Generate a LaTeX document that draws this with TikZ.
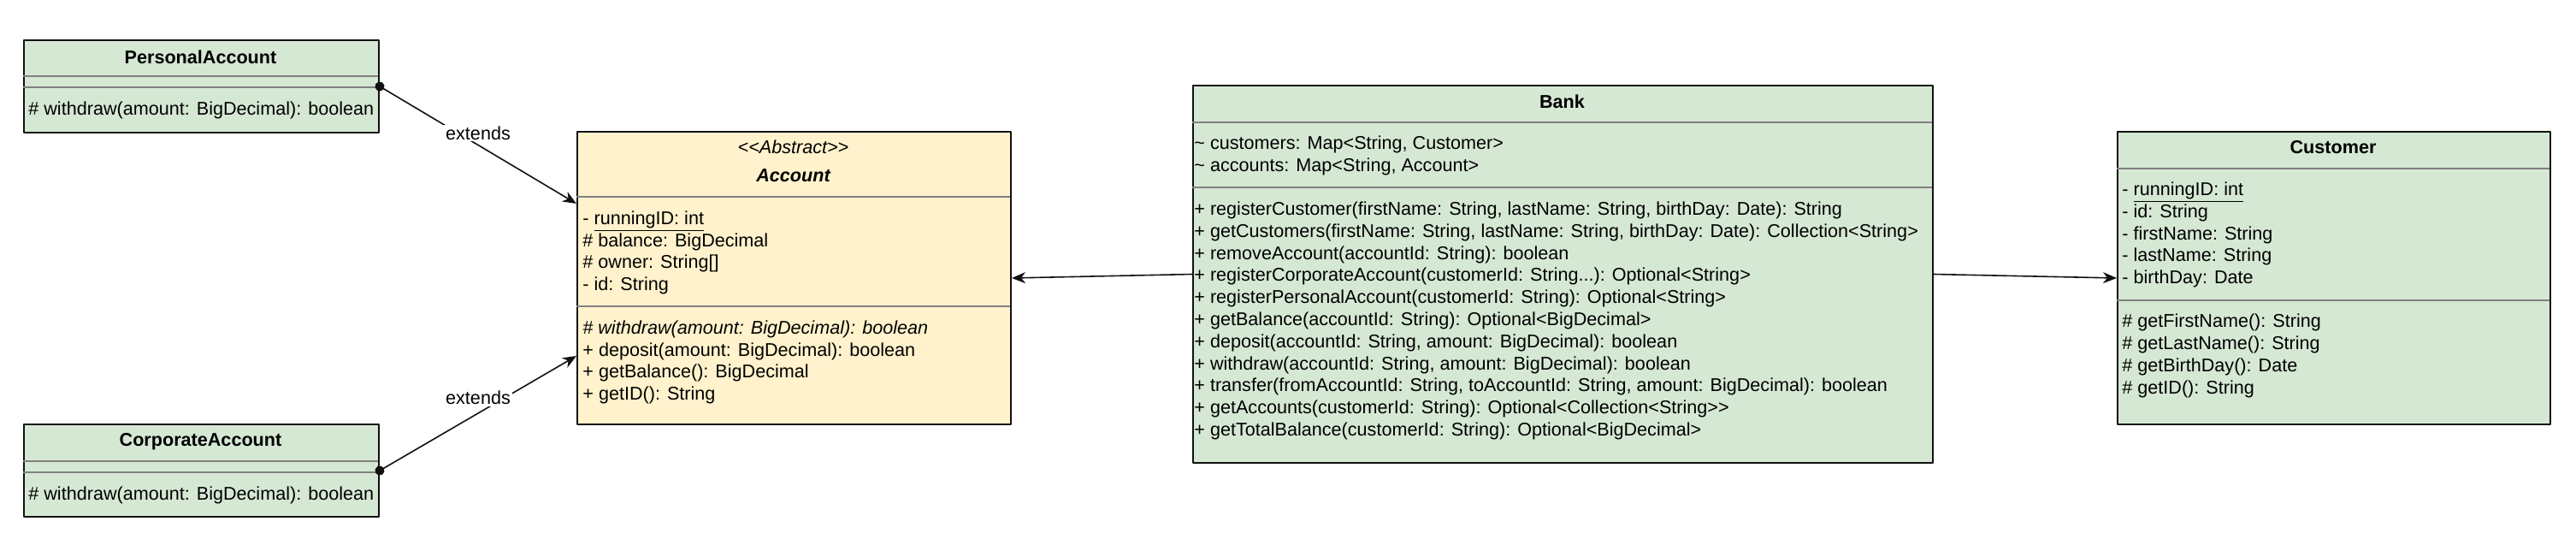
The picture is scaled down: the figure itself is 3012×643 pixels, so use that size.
\documentclass[tikz,border=0pt]{standalone}
\usepackage{fontspec}
\setmainfont{Liberation Sans}
\usetikzlibrary{arrows.meta}
\begin{document}
\fontsize{10.8}{12.9}\selectfont
\begin{tikzpicture}[x=0.5pt, y=-0.5pt, line join=round]
  \definecolor{classgreen}{HTML}{D5E8D4}
  \definecolor{abstractyellow}{HTML}{FFF2CC}
  \definecolor{rule}{HTML}{808080}
  \definecolor{ink}{HTML}{111111}
  \tikzset{
    umlclass/.style={draw=ink, line width=1pt, fill=classgreen, rectangle, anchor=north west, inner sep=0pt},
    classname/.style={font=\bfseries, inner sep=0pt},
    members/.style={align=left, anchor=west, inner sep=0pt},
    divider/.style={draw=rule, line width=0.6pt},
    extends/.style={draw=ink, line width=0.8pt, shorten <=-2.75pt,
      {Circle[length=5.5pt]}-{Stealth[length=8pt, width=6.5pt, inset=2.5pt]}},
    assoc/.style={draw=ink, line width=0.8pt, -{Stealth[length=8pt, width=6.5pt, inset=2.5pt]}},
    edgelabel/.style={fill=white, inner sep=1pt}
  }
  \path[use as bounding box] (0,0) rectangle (3012,643);
  \fill[white] (0,0) rectangle (3012,643);
  % Subclasses on the left: name, empty attribute part, one method.
  \node[umlclass, minimum width=207.5pt, minimum height=54pt] (personal) at (27,46) {};
  \draw[divider] (27,89) -- (442,89);
  \draw[divider] (27,102) -- (442,102);
  \node[classname] (personal-name) at (234.5,67) {PersonalAccount};
  \node[members] (personal-ops) at (33,129) {\# withdraw(amount: BigDecimal): boolean};
  \node[umlclass, minimum width=207.5pt, minimum height=54pt] (corporate) at (27,495) {};
  \draw[divider] (27,539) -- (442,539);
  \draw[divider] (27,552) -- (442,552);
  \node[classname] (corporate-name) at (234.5,516) {CorporateAccount};
  \node[members] (corporate-ops) at (33,579) {\# withdraw(amount: BigDecimal): boolean};
  % The abstract base class.
  \node[umlclass, fill=abstractyellow, minimum width=253.5pt, minimum height=171pt] (account) at (674,153) {};
  \draw[divider] (674,230) -- (1181,230);
  \draw[divider] (674,358) -- (1181,358);
  \node[inner sep=0pt, font=\itshape] (account-stereo) at (927.5,172) {<{}<Abstract>{}>};
  \node[classname, font=\bfseries\itshape] (account-name) at (927.5,205) {Account};
  \node[members] (account-attrs) at (681,295.5) {- \underline{runningID: int}\\\# balance: BigDecimal\\\# owner: String[]\\- id: String};
  \node[members] (account-ops) at (681,423.5) {\textit{\# withdraw(amount: BigDecimal): boolean}\\+ deposit(amount: BigDecimal): boolean\\+ getBalance(): BigDecimal\\+ getID(): String};
  % Bank in the middle.
  \node[umlclass, minimum width=432.5pt, minimum height=220.5pt] (bank) at (1394,99) {};
  \draw[divider] (1394,143) -- (2259,143);
  \draw[divider] (1394,219) -- (2259,219);
  \node[classname] (bank-name) at (1826.5,119) {Bank};
  \node[members] (bank-attrs) at (1396,182) {\textasciitilde{} customers: Map<String, Customer>\\\textasciitilde{} accounts: Map<String, Account>};
  \node[members] (bank-ops) at (1396,375) {+ registerCustomer(firstName: String, lastName: String, birthDay: Date): String\\
    + getCustomers(firstName: String, lastName: String, birthDay: Date): Collection<String>\\
    + removeAccount(accountId: String): boolean\\
    + registerCorporateAccount(customerId: String...): Optional<String>\\
    + registerPersonalAccount(customerId: String): Optional<String>\\
    + getBalance(accountId: String): Optional<BigDecimal>\\
    + deposit(accountId: String, amount: BigDecimal): boolean\\
    + withdraw(accountId: String, amount: BigDecimal): boolean\\
    + transfer(fromAccountId: String, toAccountId: String, amount: BigDecimal): boolean\\
    + getAccounts(customerId: String): Optional<Collection<String>{}>\\
    + getTotalBalance(customerId: String): Optional<BigDecimal>};
  % Customer on the right.
  \node[umlclass, minimum width=253pt, minimum height=171pt] (customer) at (2475,153) {};
  \draw[divider] (2475,197) -- (2981,197);
  \draw[divider] (2475,351) -- (2981,351);
  \node[classname] (customer-name) at (2728,172) {Customer};
  \node[members] (customer-attrs) at (2481,274.5) {- \underline{runningID: int}\\- id: String\\- firstName: String\\- lastName: String\\- birthDay: Date};
  \node[members] (customer-ops) at (2481,416) {\# getFirstName(): String\\\# getLastName(): String\\\# getBirthDay(): Date\\\# getID(): String};
  % Connectors.
  \draw[extends] (personal.east) -- ([yshift=43.5pt]account.west)
    node[edgelabel, pos=0.5, yshift=7pt] (personal-extends) {extends};
  \draw[extends] (corporate.east) -- ([yshift=-45.5pt]account.west)
    node[edgelabel, pos=0.5, yshift=9pt] (corporate-extends) {extends};
  \draw[assoc] (bank.west) -- (account.east);
  \draw[assoc] (bank.east) -- (customer.west);
\end{tikzpicture}
\end{document}
